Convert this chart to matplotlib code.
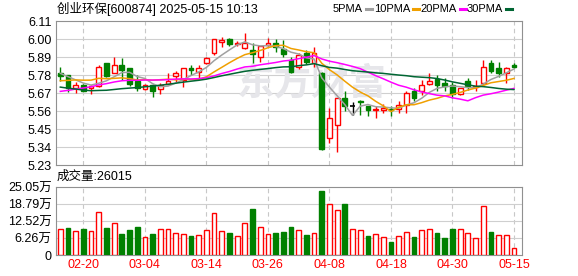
import matplotlib
matplotlib.use("Agg")
import matplotlib.pyplot as plt
import pandas as pd

plt.rcParams['font.family'] = ['Liberation Sans', 'Noto Sans CJK SC']

# trading days shown
dates = ['02-17', '02-18', '02-19', '02-20', '02-21', '02-24', '02-25', '02-26', '02-27', '02-28',
         '03-03', '03-04', '03-05', '03-06', '03-07', '03-10', '03-11', '03-12', '03-13', '03-14',
         '03-17', '03-18', '03-19', '03-20', '03-21', '03-24', '03-25', '03-26', '03-27', '03-28',
         '03-31', '04-01', '04-02', '04-03', '04-07', '04-08', '04-09', '04-10', '04-11', '04-14',
         '04-15', '04-16', '04-17', '04-18', '04-21', '04-22', '04-23', '04-24', '04-25', '04-28',
         '04-29', '04-30', '05-06', '05-07', '05-08', '05-09', '05-12', '05-13', '05-14', '05-15']
tick_dates = ['02-20', '03-04', '03-14', '03-26', '04-08', '04-18', '04-30', '05-15']

opens = [5.791, 5.779, 5.703, 5.720, 5.700, 5.714, 5.852, 5.795, 5.842, 5.822,
         5.746, 5.693, 5.720, 5.693, 5.724, 5.775, 5.750, 5.825, 5.800, 5.856,
         5.913, 5.984, 5.998, 5.968, 5.947, 5.933, 5.892, 5.964, 5.974, 5.937,
         5.872, 5.831, 5.917, 5.852, 5.791, 5.395, 5.472, 5.639, 5.588, 5.624,
         5.592, 5.565, 5.567, 5.572, 5.572, 5.598, 5.685, 5.685, 5.724, 5.754,
         5.734, 5.720, 5.665, 5.746, 5.706, 5.734, 5.852, 5.822, 5.795, 5.842]
highs = [5.831, 5.782, 5.740, 5.727, 5.716, 5.842, 5.855, 5.889, 5.883, 5.825,
         5.780, 5.727, 5.727, 5.730, 5.790, 5.805, 5.822, 5.842, 5.842, 5.893,
         6.000, 6.011, 6.005, 5.990, 6.039, 5.978, 5.959, 6.004, 6.000, 5.994,
         5.890, 5.913, 5.930, 5.953, 5.800, 5.578, 5.640, 5.685, 5.618, 5.630,
         5.592, 5.592, 5.600, 5.588, 5.620, 5.685, 5.700, 5.750, 5.795, 5.781,
         5.760, 5.740, 5.700, 5.760, 5.750, 5.872, 5.872, 5.860, 5.830, 5.853]
lows = [5.746, 5.679, 5.673, 5.680, 5.663, 5.705, 5.768, 5.795, 5.750, 5.715,
        5.685, 5.688, 5.645, 5.664, 5.720, 5.740, 5.706, 5.781, 5.760, 5.850,
        5.900, 5.953, 5.960, 5.960, 5.937, 5.856, 5.862, 5.955, 5.919, 5.889,
        5.790, 5.816, 5.850, 5.828, 5.320, 5.364, 5.307, 5.557, 5.537, 5.537,
        5.531, 5.517, 5.545, 5.530, 5.550, 5.550, 5.620, 5.659, 5.720, 5.685,
        5.685, 5.640, 5.660, 5.690, 5.680, 5.720, 5.790, 5.770, 5.734, 5.820]
closes = [5.775, 5.700, 5.720, 5.683, 5.714, 5.831, 5.775, 5.842, 5.811, 5.724,
          5.700, 5.716, 5.685, 5.716, 5.744, 5.791, 5.822, 5.811, 5.825, 5.883,
          5.998, 5.994, 5.968, 5.978, 5.974, 5.909, 5.959, 5.978, 5.953, 5.907,
          5.800, 5.903, 5.862, 5.917, 5.330, 5.517, 5.639, 5.592, 5.588, 5.612,
          5.567, 5.572, 5.581, 5.565, 5.598, 5.669, 5.639, 5.720, 5.744, 5.720,
          5.714, 5.665, 5.700, 5.714, 5.714, 5.828, 5.807, 5.795, 5.822, 5.831]
# closes before the visible window (estimated so the averages start where the chart shows)
prior_closes = [5.90, 5.88, 5.86, 5.84, 5.78, 5.74, 5.70, 5.66, 5.62, 5.60,
                5.58, 5.56, 5.55, 5.57, 5.60, 5.62, 5.64, 5.66, 5.67, 5.70,
                5.68, 5.69, 5.70, 5.71, 5.72, 5.80, 5.82, 5.78, 5.775]

# volume in 万
volumes = [9.4, 9.9, 8.8, 9.5, 8.8, 15.7, 9.9, 11.7, 7.7, 9.2,
           10.2, 6.5, 7.7, 9.4, 9.4, 8.1, 7.7, 7.0, 7.2, 9.2,
           15.4, 8.8, 8.1, 7.0, 11.7, 16.8, 10.2, 7.7, 8.1, 8.5,
           10.2, 9.2, 7.3, 8.1, 23.4, 18.7, 16.5, 18.7, 9.5, 9.2,
           7.0, 7.7, 6.6, 4.8, 7.0, 8.5, 6.6, 9.2, 9.5, 8.1,
           6.2, 9.5, 9.5, 8.1, 6.2, 17.9, 8.5, 7.3, 7.3, 2.6]
vol_up = [1, 0, 1, 0, 1, 1, 0, 1, 0, 0, 0, 1, 0, 1, 1, 1, 1, 0, 1, 1,
          1, 1, 0, 1, 1, 0, 1, 1, 0, 0, 0, 1, 0, 1, 0, 1, 1, 0, 1, 1,
          0, 1, 1, 0, 1, 1, 0, 1, 1, 0, 0, 0, 1, 1, 1, 1, 0, 1, 1, 1]
last_volume = 26015

price_ticks = [5.23, 5.34, 5.45, 5.56, 5.67, 5.78, 5.89, 6.00, 6.11]
vol_ticks = [0, 6.26, 12.52, 18.79, 25.05]
vol_labels = ['0', '6.26万', '12.52万', '18.79万', '25.05万']

ma_periods = [5, 10, 20, 30]
ma_colors = ['#a0a0a0', '#f0a000', '#ff00ff', '#006633']

RED = '#ff0000'
GREEN = '#008000'
W, H = 578, 276

all_closes = pd.Series(prior_closes + closes)
n = len(closes)
x = list(range(n))

fig = plt.figure(figsize=(W / 100, H / 100), dpi=100)
ax = fig.add_axes([55.7 / W, 1 - 165 / H, 466.3 / W, 144 / H])
axv = fig.add_axes([55.7 / W, 1 - 255 / H, 466.3 / W, 68 / H])

tick_pos = [dates.index(d) for d in tick_dates]

for a in (ax, axv):
    a.set_xlim(-0.6, n + 0.04)
    for s in a.spines.values():
        s.set_color('#909090')
    a.tick_params(length=0, labelsize=9, pad=3)
    for p in tick_pos:
        a.axvline(p, color='#c8c8c8', lw=0.8, ls=(0, (4, 3)), zorder=0)

# price panel
ax.set_ylim(5.23, 6.11)
ax.set_yticks(price_ticks)
ax.set_yticklabels(['%.2f' % v for v in price_ticks])
ax.set_xticks([])
for v in price_ticks[1:-1]:
    ax.axhline(v, color='#cfcfcf', lw=0.8, zorder=0)

ax.text(0.55, 0.56, '东方财富', transform=ax.transAxes, fontsize=27, fontweight='bold',
        color='#e6e6ea', ha='center', va='center', family='Noto Sans CJK SC', zorder=0.5)

bw = 0.62
for i in x:
    o, h, l, c = opens[i], highs[i], lows[i], closes[i]
    if c > o:
        col, face = RED, 'white'
    elif c < o:
        col, face = GREEN, GREEN
    else:
        col, face = 'black', 'black'
    lo, hi = min(o, c), max(o, c)
    ax.vlines(i, hi, h, color=col, lw=1, zorder=2)
    ax.vlines(i, l, lo, color=col, lw=1, zorder=2)
    if hi - lo < 0.004:
        ax.hlines((o + c) / 2, i - bw / 2, i + bw / 2, color=col, lw=1.2, zorder=3)
    else:
        ax.bar(i, hi - lo, bottom=lo, width=bw, facecolor=face, edgecolor=col, lw=1, zorder=3)

for p, col in zip(ma_periods, ma_colors):
    ma = all_closes.rolling(p).mean().iloc[-n:].values
    ax.plot(x, ma, color=col, lw=1.1, zorder=4)

# volume panel
axv.set_ylim(0, 25.05)
axv.set_yticks(vol_ticks)
axv.set_yticklabels(vol_labels)
for v in vol_ticks[1:-1]:
    axv.axhline(v, color='#cfcfcf', lw=0.8, zorder=0)
for i in x:
    if vol_up[i]:
        axv.bar(i, volumes[i], width=bw, facecolor='white', edgecolor=RED, lw=1, zorder=3)
    else:
        axv.bar(i, volumes[i], width=bw, facecolor=GREEN, edgecolor=GREEN, lw=1, zorder=3)
axv.set_xticks(tick_pos)
axv.set_xticklabels(tick_dates, color=RED)

# header texts
fig.text(57 / W, 1 - 9 / H, '创业环保[600874] 2025-05-15 10:13', fontsize=9, va='center')
fig.text(57 / W, 1 - 177 / H, '成交量:%d' % last_volume, fontsize=9, va='center')

# legend: label then a short colour dash
dash_x = [366, 413, 460, 506]
for dx, p, col in zip(dash_x, ma_periods, ma_colors):
    fig.text((dx - 3) / W, 1 - 9 / H, '%dPMA' % p, fontsize=8, va='center', ha='right')
    fig.add_artist(plt.Line2D([dx / W, (dx + 6) / W], [1 - 9 / H, 1 - 9 / H],
                              transform=fig.transFigure, color=col, lw=2.2))

fig.savefig('out.png', dpi=100)
